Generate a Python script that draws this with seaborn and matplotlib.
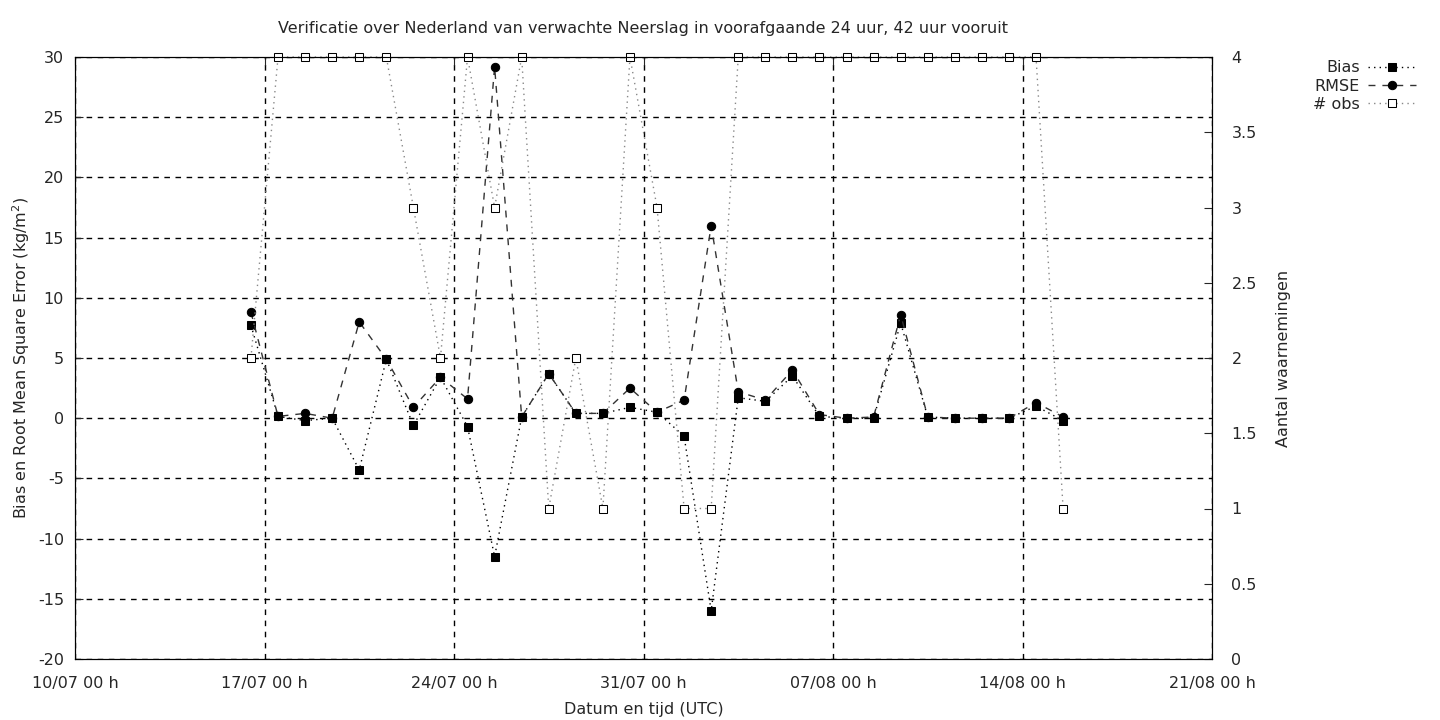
import pandas as pd
import numpy as np
import matplotlib
matplotlib.use("Agg")
import matplotlib.pyplot as plt
import matplotlib.dates as mdates
import seaborn as sns

# daily verification at 12 UTC, 16/07 .. 15/08
dates = pd.date_range("2023-07-16 12:00", "2023-08-15 12:00", freq="D")

bias = [7.7, 0.15, -0.2, 0.0, -4.3, 4.9, -0.6, 3.4, -0.7, -11.5, 0.1,
        3.7, 0.4, 0.4, 0.9, 0.5, -1.5, -16.0, 1.7, 1.4, 3.5, 0.15,
        0.0, 0.0, 7.9, 0.1, 0.0, 0.0, 0.0, 1.0, -0.2]
rmse = [8.8, 0.15, 0.4, 0.0, 8.0, 4.9, 0.9, 3.4, 1.6, 29.2, 0.1,
        3.7, 0.4, 0.4, 2.5, 0.5, 1.5, 16.0, 2.2, 1.5, 4.0, 0.3,
        0.0, 0.1, 8.6, 0.1, 0.0, 0.0, 0.0, 1.3, 0.1]
n_obs = [2, 4, 4, 4, 4, 4, 3, 2, 4, 3, 4,
         1, 2, 1, 4, 3, 1, 1, 4, 4, 4, 4,
         4, 4, 4, 4, 4, 4, 4, 4, 1]
right_labels = ["0", "0.5", "1", "1.5", "2", "2.5", "3", "3.5", "4"]

df = pd.DataFrame({"datum": dates, "bias": bias, "rmse": rmse, "n_obs": n_obs})

sns.set_style("white")
plt.rcParams["font.family"] = ["DejaVu Sans"]
plt.rcParams["font.size"] = 11.5
plt.rcParams["axes.unicode_minus"] = False

fig = plt.figure(figsize=(14.4, 7.2), dpi=100)
ax = fig.add_axes([75 / 1440, 1 - 659 / 720, (1212 - 75) / 1440, (659 - 57) / 720])
ax2 = ax.twinx()

sns.lineplot(data=df, x="datum", y="bias", ax=ax, color="black", linestyle=(0, (1, 3)),
             linewidth=1, marker="s", markersize=6, markeredgecolor="black",
             label="Bias", legend=False, clip_on=False)
sns.lineplot(data=df, x="datum", y="rmse", ax=ax, color="#333333",
             linestyle=(0, (5, 5)), linewidth=1, marker="o", markersize=6,
             markerfacecolor="black", markeredgecolor="black",
             label="RMSE", legend=False, clip_on=False)
sns.lineplot(data=df, x="datum", y="n_obs", ax=ax2, color="#888888", linestyle=(0, (1, 3)),
             linewidth=1, marker="s", markersize=6, markerfacecolor="white",
             markeredgecolor="black", label="# obs", legend=False, clip_on=False)

ax.set_xlim(pd.Timestamp("2023-07-10"), pd.Timestamp("2023-08-21"))
ax.set_ylim(-20, 30)
ax.set_yticks(np.arange(-20, 31, 5))
ax2.set_ylim(0, 4)
ax2.set_yticks(np.arange(0, 4.01, 0.5))
ax2.set_yticklabels(right_labels)

ticks = pd.date_range("2023-07-10", "2023-08-21", freq="7D")
ax.set_xticks(ticks)
ax.xaxis.set_major_formatter(mdates.DateFormatter("%d/%m %H h"))

ax.grid(True, color="black", linestyle=(0, (4, 4)), linewidth=1)
ax.tick_params(axis="x", direction="in", length=6, top=True, pad=12, labelsize=11.5)
ax.tick_params(axis="y", direction="in", length=6, pad=8, labelsize=11.5)
ax2.tick_params(axis="y", direction="in", length=6, pad=14, labelsize=11.5)
for sp in list(ax.spines.values()) + list(ax2.spines.values()):
    sp.set_color("black")
    sp.set_linewidth(0.8)

ax.set_title("Verificatie over Nederland van verwachte Neerslag in voorafgaande 24 uur, 42 uur vooruit",
             fontsize=11.5, pad=17)
ax.set_xlabel("Datum en tijd (UTC)", fontsize=11.5, labelpad=8)
ax.set_ylabel("Bias en Root Mean Square Error (kg/m$^2$)", fontsize=11.5, labelpad=4)
ax2.set_ylabel("Aantal waarnemingen", fontsize=11.5, labelpad=14)

h1, l1 = ax.get_legend_handles_labels()
h2, l2 = ax2.get_legend_handles_labels()
fig.legend(h1 + h2, l1 + l2, loc="upper right", bbox_to_anchor=(1422 / 1440, 1 - 54 / 720),
           frameon=False, markerfirst=False, fontsize=11.5, handlelength=3.0,
           handletextpad=0.5, labelspacing=0.2, borderaxespad=0)

fig.savefig("out.png", dpi=100)
